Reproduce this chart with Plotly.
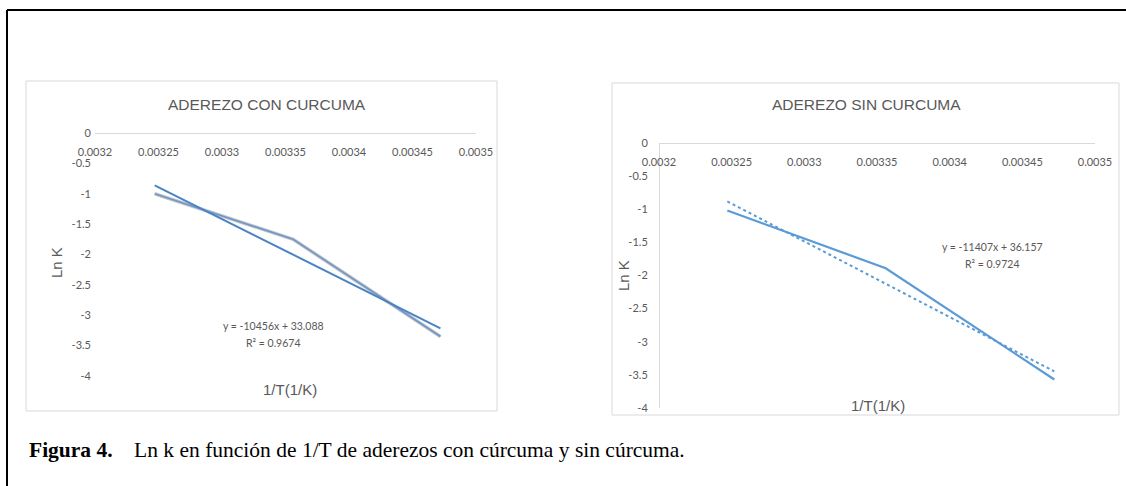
import plotly.graph_objects as go

# ---------------- data ----------------
inv_T = [0.003247, 0.003356, 0.003472]          # 1/T (1/K)
lnk_con = [-1.00, -1.75, -3.35]                 # Ln K, aderezo con cúrcuma
lnk_sin = [-1.02, -1.89, -3.57]                 # Ln K, aderezo sin cúrcuma
fit_con = (-10456, 33.088)                      # slope, intercept
fit_sin = (-11407, 36.157)
r2_con = 0.9674
r2_sin = 0.9724

x_ticks = [0.0032, 0.00325, 0.0033, 0.00335, 0.0034, 0.00345, 0.0035]
x_ticktext = ["0.0032", "0.00325", "0.0033", "0.00335", "0.0034", "0.00345", "0.0035"]
y_ticks = [0, -0.5, -1, -1.5, -2, -2.5, -3, -3.5, -4]
y_ticktext = ["0", "-0.5", "-1", "-1.5", "-2", "-2.5", "-3", "-3.5", "-4"]

titles = ["ADEREZO CON CURCUMA", "ADEREZO SIN CURCUMA"]
x_title = "1/T(1/K)"
y_title = "Ln K"
caption_bold = "Figura 4."
caption_text = "Ln k en función de 1/T de aderezos con cúrcuma y sin cúrcuma."

# ---------------- layout helpers ----------------
W, H = 1126, 486
def px(x):
    return x / W
def py(y):
    return 1 - y / H

def trend(fit):
    m, b = fit
    return [m * x + b for x in inv_T]

GRAY_TXT = "#595959"
AX_LINE = "#d9d9d9"
BLUE = "#5b9bd5"
TICKFONT = dict(family="Lato, Open Sans, sans-serif", size=11, color=GRAY_TXT)

fig = go.Figure()

# ----- left chart (con cúrcuma) -----
fig.add_trace(go.Scatter(x=inv_T, y=lnk_con, mode="lines",
                         line=dict(color="#c6c8cc", width=3.6),
                         xaxis="x", yaxis="y", showlegend=False, hoverinfo="skip"))
fig.add_trace(go.Scatter(x=inv_T, y=lnk_con, mode="lines",
                         line=dict(color="#7196c6", width=1.6),
                         xaxis="x", yaxis="y", showlegend=False))
fig.add_trace(go.Scatter(x=inv_T, y=trend(fit_con), mode="lines",
                         line=dict(color="#4a84c4", width=2),
                         xaxis="x", yaxis="y", showlegend=False))

# ----- right chart (sin cúrcuma) -----
fig.add_trace(go.Scatter(x=inv_T, y=lnk_sin, mode="lines",
                         line=dict(color=BLUE, width=2.2),
                         xaxis="x2", yaxis="y2", showlegend=False))
fig.add_trace(go.Scatter(x=inv_T, y=trend(fit_sin), mode="lines",
                         line=dict(color=BLUE, width=2, dash="dot"),
                         xaxis="x2", yaxis="y2", showlegend=False))

# plot-area pixel boxes
L = dict(x0=95, x1=476, y0=133, y1=376)
R = dict(x0=659, x1=1095, y0=143, y1=408)

def xaxis_cfg(box):
    return dict(domain=[px(box["x0"]), px(box["x1"])], range=[0.0032, 0.0035],
                tickvals=x_ticks, ticktext=x_ticktext, tickfont=TICKFONT,
                showgrid=False, zeroline=False, showline=True, linecolor=AX_LINE,
                linewidth=1.3, ticks="", anchor="free", position=py(box["y0"]),
                side="bottom", automargin=False, ticklabelstandoff=8, fixedrange=True)

def yaxis_cfg(box, showline, standoff):
    return dict(domain=[py(box["y1"]), py(box["y0"])], range=[-4, 0],
                tickvals=y_ticks, ticktext=y_ticktext, tickfont=TICKFONT,
                showgrid=False, zeroline=False, showline=showline, linecolor=AX_LINE,
                linewidth=1.3, ticks="", anchor="free", position=px(box["x0"]),
                automargin=False, ticklabelstandoff=standoff, fixedrange=True)

fig.update_layout(
    template="none",
    width=W, height=H, margin=dict(l=0, r=0, t=0, b=0, pad=0),
    paper_bgcolor="white", plot_bgcolor="rgba(0,0,0,0)",
    xaxis=xaxis_cfg(L), yaxis=yaxis_cfg(L, False, 4),
    xaxis2=xaxis_cfg(R), yaxis2=yaxis_cfg(R, True, 9),
    showlegend=False,
)

shapes = []
# outer frame (left + top)
shapes.append(dict(type="line", xref="paper", yref="paper", x0=px(7), x1=px(7), y0=py(10), y1=0,
                   line=dict(color="black", width=2)))
shapes.append(dict(type="line", xref="paper", yref="paper", x0=px(7), x1=1, y0=py(10), y1=py(10),
                   line=dict(color="black", width=2)))
# chart boxes
for (x0, y0, x1, y1) in [(26, 81, 497, 411), (612, 83, 1119, 415)]:
    shapes.append(dict(type="rect", xref="paper", yref="paper", x0=px(x0), x1=px(x1),
                       y0=py(y1), y1=py(y0), line=dict(color="#d9d9d9", width=1),
                       fillcolor="rgba(0,0,0,0)", layer="below"))
fig.update_layout(shapes=shapes)

TITLE_FONT = dict(family="Liberation Sans, Arial, sans-serif", size=15.5, color=GRAY_TXT)
AXT_FONT = dict(family="Liberation Sans, Arial, sans-serif", size=15, color=GRAY_TXT)
EQ_FONT = dict(family="Lato, Open Sans, sans-serif", size=10.5, color=GRAY_TXT)

ann = []
def A(x, y, text, font, **kw):
    d = dict(x=px(x), y=py(y), xref="paper", yref="paper", text=text, showarrow=False,
             font=font, xanchor="center", yanchor="middle")
    d.update(kw)
    ann.append(d)

# left chart texts
A(267, 104, titles[0], TITLE_FONT)
A(56, 263, y_title, AXT_FONT, textangle=-90)
A(290, 389, x_title, AXT_FONT)
A(273, 326, f"y = {fit_con[0]}x + {fit_con[1]}", EQ_FONT)
A(273, 343, f"R² = {r2_con}", EQ_FONT)

# right chart texts
A(866, 105, titles[1], TITLE_FONT)
A(623, 276, y_title, AXT_FONT, textangle=-90)
A(878, 405, x_title, AXT_FONT)
A(992, 247, f"y = {fit_sin[0]}x + {fit_sin[1]}", EQ_FONT)
A(992, 264, f"R² = {r2_sin}", EQ_FONT)

# caption
A(27, 450, f"<b>{caption_bold}</b>&nbsp;&nbsp;&nbsp;&nbsp;{caption_text}",
  dict(family="Liberation Serif, Times New Roman, serif", size=21.5, color="black"),
  xanchor="left")

fig.update_layout(annotations=ann)
fig.write_html("out.html",
               config={"displayModeBar": False, "staticPlot": True},
               post_script="document.body.style.margin='0';document.body.style.overflow='hidden';")
